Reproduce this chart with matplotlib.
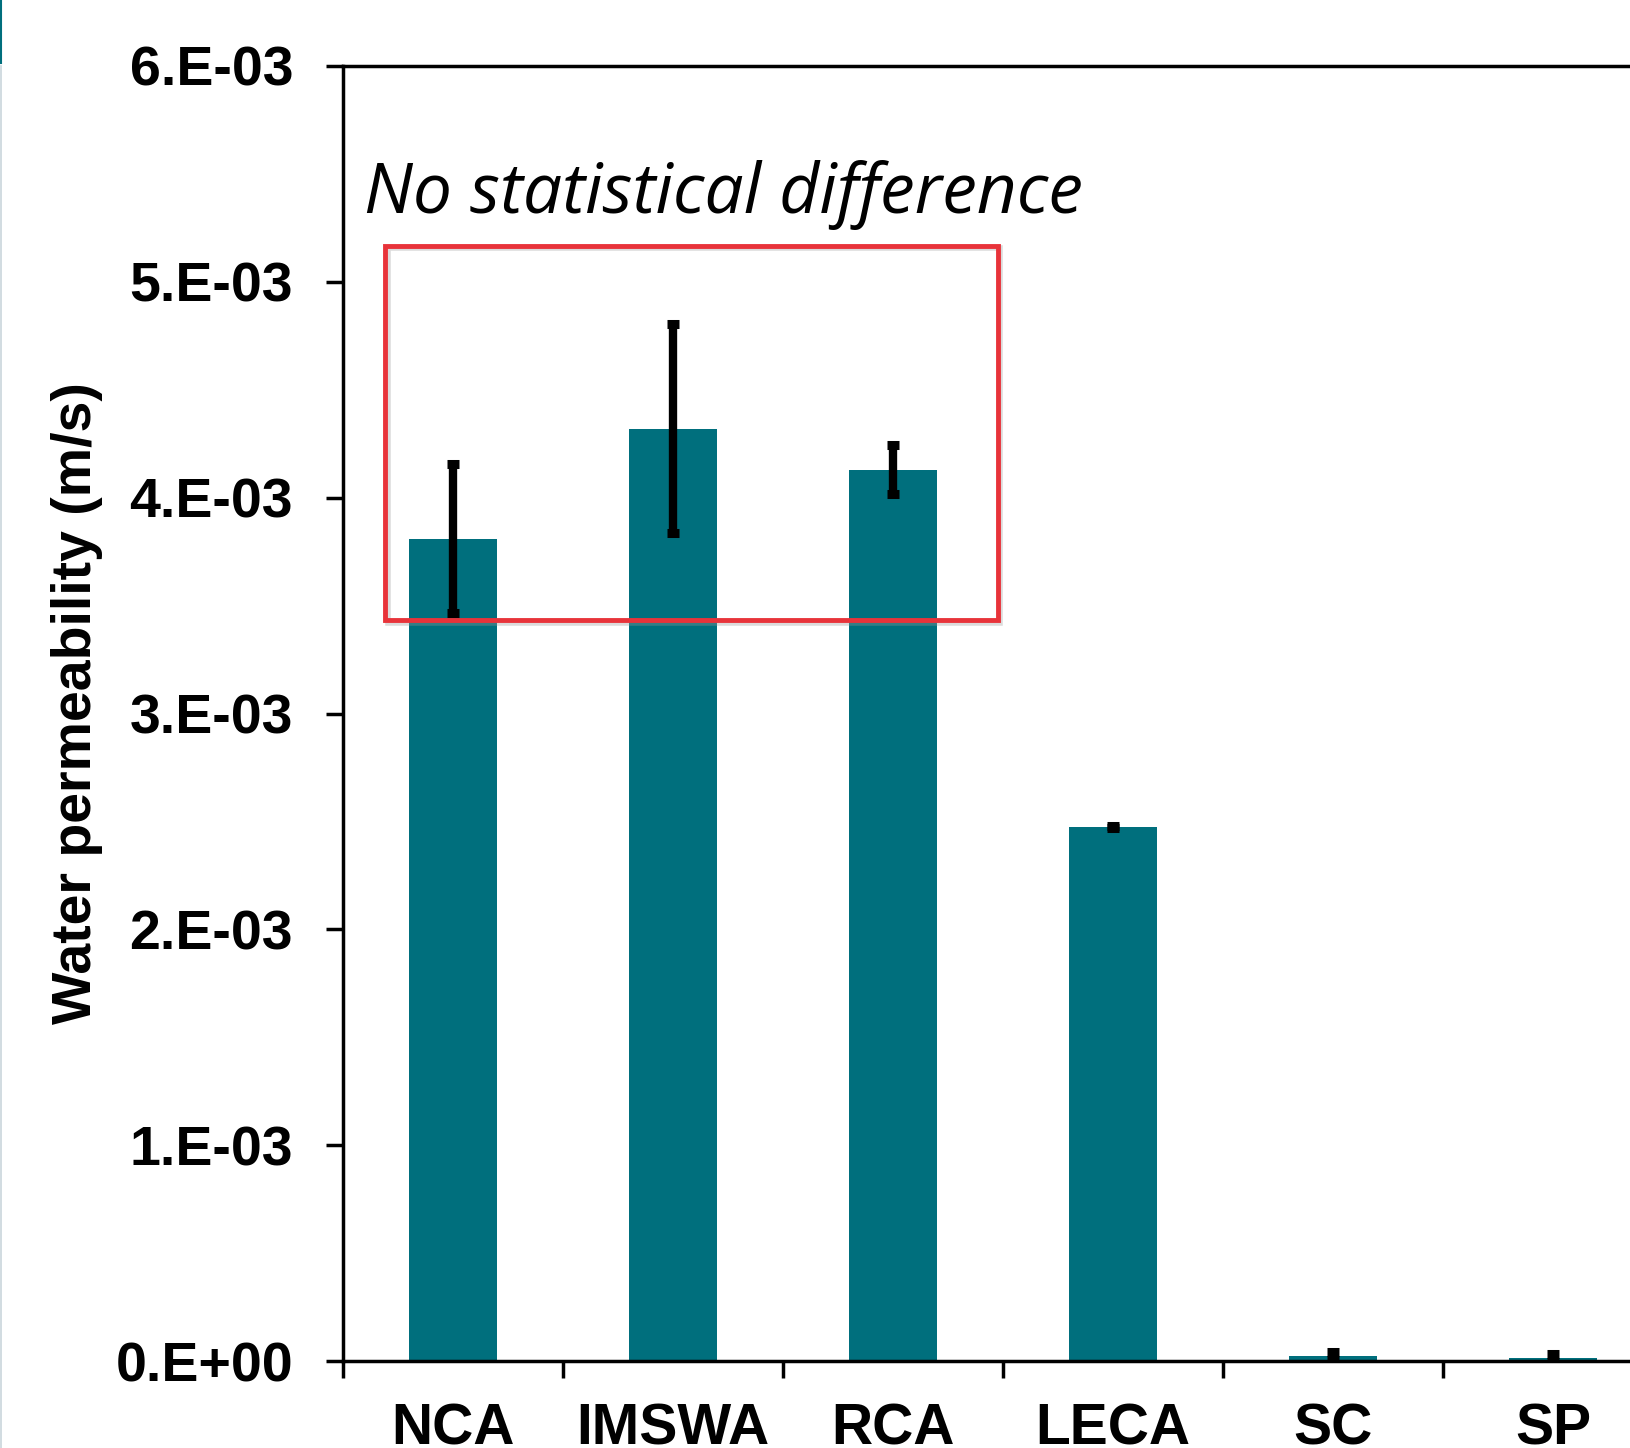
import numpy as np
import matplotlib.pyplot as plt
from matplotlib.patches import Rectangle
from matplotlib.lines import Line2D

# data (m/s)
materials = ["NCA", "IMSWA", "RCA", "LECA", "SC", "SP"]
permeability = [3.81e-3, 4.32e-3, 4.13e-3, 2.475e-3, 0.023e-3, 0.014e-3]
perm_err = [0.345e-3, 0.485e-3, 0.113e-3, 0.005e-3, 0.02e-3, 0.02e-3]
ytick_vals = [0, 1e-3, 2e-3, 3e-3, 4e-3, 5e-3, 6e-3]
ytick_labels = ["0.E+00", "1.E-03", "2.E-03", "3.E-03", "4.E-03", "5.E-03", "6.E-03"]

teal = "#006F7D"
bold = {"family": "Liberation Sans", "weight": "bold"}

fig = plt.figure(figsize=(16.3, 14.48), dpi=100)
ax = fig.add_axes([343 / 1630, 87 / 1448, 1 - 343 / 1630, (1361 - 66) / 1448])

x = np.arange(len(materials))
ax.bar(x, permeability, width=0.40, color=teal, zorder=2)
ax.errorbar(x, permeability, yerr=perm_err, fmt="none", ecolor="black",
            elinewidth=6, capsize=4.5, capthick=6.5, zorder=3)

ax.set_xlim(-0.5, 5.35)
ax.set_ylim(0, 6e-3)

ax.set_yticks(ytick_vals)
ax.set_yticklabels(ytick_labels, fontdict=bold, fontsize=40)
ax.set_xticks(x)
ax.set_xticklabels(materials, fontdict=bold, fontsize=41)
ax.set_xticks(np.arange(-0.5, 5.5, 1.0), minor=True)
ax.tick_params(axis="x", which="major", length=0, pad=30)
ax.tick_params(axis="x", which="minor", length=12, width=2.5, direction="out")
ax.tick_params(axis="y", length=12, width=2.5, direction="out", pad=24)

for s in ["left", "bottom", "top"]:
    ax.spines[s].set_linewidth(2.5)
ax.spines["right"].set_visible(False)

ax.set_ylabel("Water permeability (m/s)", fontdict=bold, fontsize=40,
              labelpad=9, y=0.508)

# highlight box (with faint drop shadow) + note
bx, by, bw, bh = -0.307, 3.431e-3, 2.783, 1.736e-3
ax.add_patch(Rectangle((bx + 0.012, by - 0.012e-3), bw, bh, fill=False,
                       edgecolor="#999999", alpha=0.35, linewidth=4, zorder=4))
ax.add_patch(Rectangle((bx, by), bw, bh, fill=False,
                       edgecolor="#E8333A", linewidth=3.5, zorder=5))
ax.text(-0.406, 5.32e-3, "No statistical difference", family="Open Sans",
        style="italic", fontsize=50, va="baseline", ha="left")

# thin strip at left edge of the original crop
fig.add_artist(Line2D([0.0007, 0.0007], [1 - 63 / 1448, 1.0], color=teal, linewidth=1.5))
fig.add_artist(Line2D([0.0007, 0.0007], [0.0, 1 - 66 / 1448], color="#C9D6DC", linewidth=1.2))

fig.savefig("out.png", dpi=100)
